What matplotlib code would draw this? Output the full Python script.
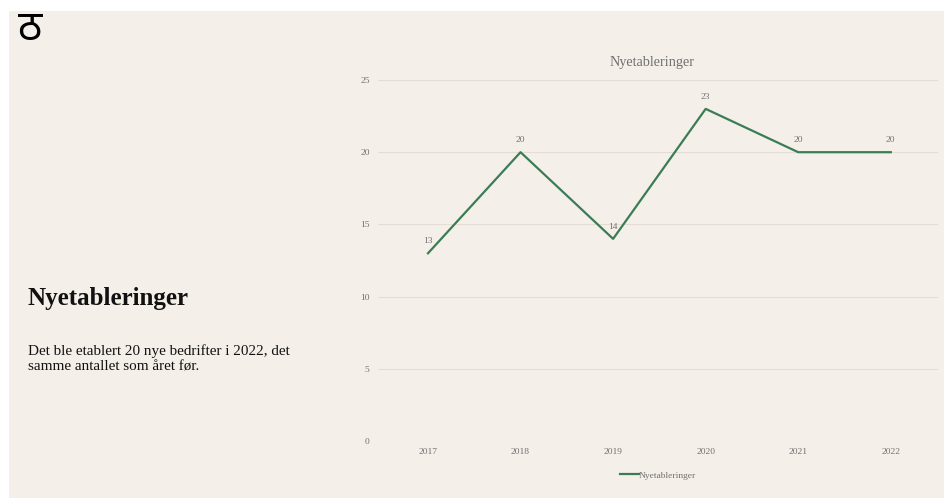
import matplotlib.pyplot as plt
from matplotlib.patches import Rectangle

years = ["2017", "2018", "2019", "2020", "2021", "2022"]
nyetableringer = [13, 20, 14, 23, 20, 20]
yticks = [0, 5, 10, 15, 20, 25]

bg = "#f5efe9"
green = "#3a7d55"
grey = "#707070"

plt.rcParams['font.family'] = ['Liberation Serif', 'DejaVu Serif']

fig = plt.figure(figsize=(9.44, 4.98), dpi=100, facecolor="white")
W, H = 944, 498
fig.patches.append(Rectangle((9 / W, 0), 1, 1 - 11 / H, transform=fig.transFigure,
                             facecolor=bg, edgecolor="none", zorder=-10))

# odd glyph top-left
fig.text(18 / W, 1 - 29 / H, "ठ", fontsize=30, va="center", ha="left",
         family=['Noto Sans', 'DejaVu Sans'])

fig.text(28 / W, 1 - 298 / H, "Nyetableringer", fontsize=18, fontweight="bold",
         va="center", ha="left", color="#111111")
fig.text(28 / W, 1 - 359 / H, "Det ble etablert 20 nye bedrifter i 2022, det\nsamme antallet som året før.",
         fontsize=10.9, va="center", ha="left", color="#111111", linespacing=1.25)

ax = fig.add_axes([378 / W, (H - 441) / H, (938 - 378) / W, (441 - 80) / H])
ax.set_facecolor("none")
x = list(range(len(years)))
ax.plot(x, nyetableringer, color=green, lw=1.6, label="Nyetableringer")
for xi, v in zip(x, nyetableringer):
    ax.annotate(str(v), (xi, v), xytext=(0, 6), textcoords="offset points",
                ha="center", va="bottom", fontsize=6.8, color=grey)

ax.set_xlim(-0.54, 5.51)
ax.set_ylim(0, 25)
ax.set_xticks(x)
ax.set_xticklabels(years)
ax.set_yticks(yticks)
ax.tick_params(length=0, labelsize=6.8, labelcolor=grey)
ax.tick_params(axis="y", pad=6)
ax.tick_params(axis="x", pad=5)
ax.grid(axis="y", color="#e4ddd6", lw=0.8)
ax.set_axisbelow(True)
for s in ax.spines.values():
    s.set_visible(False)

ax.set_title("Nyetableringer", fontsize=10.3, color=grey, pad=10, x=0.49)
ax.legend(loc="upper center", bbox_to_anchor=(0.5, -0.06), frameon=False,
          fontsize=6.8, labelcolor=grey, handlelength=2, handletextpad=0.05)

fig.savefig("out.png", dpi=100, facecolor="white")
